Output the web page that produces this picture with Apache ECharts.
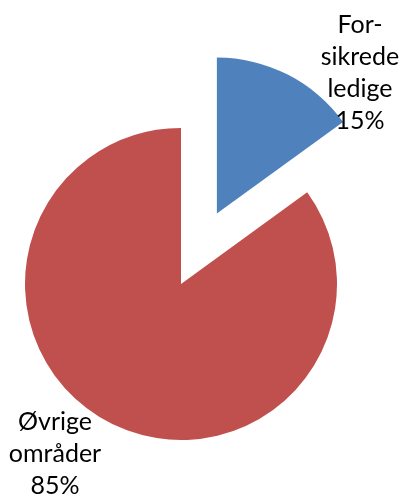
<!DOCTYPE html>
<html>
<head>
<meta charset="utf-8">
<script src="https://cdn.jsdelivr.net/npm/echarts@6/dist/echarts.min.js"></script>
<style>html,body{margin:0;padding:0;background:#fff;}#c{width:401px;height:497px;}</style>
</head>
<body>
<div id="c"></div>
<script>
var categories = ["For-\nsikrede\nledige", "Øvrige\nområder"];
var values = [15, 85];
var colors = ["#4F81BD", "#C0504D"];
var labelSpots = [[360, 73], [55, 454]];

var cx = 181, cy = 284, R = 156, explode = 79;
var total = values.reduce(function (a, b) { return a + b; }, 0);
var midAng = (values[0] / total) * Math.PI; // half of the first slice, clockwise from 12 o'clock
var ex = cx + explode * Math.sin(midAng), ey = cy - explode * Math.cos(midAng);

function makeSeries(showIndex, center) {
  return {
    type: 'pie',
    center: center,
    radius: R,
    startAngle: 90,
    clockwise: true,
    percentPrecision: 0,
    avoidLabelOverlap: false,
    emphasis: {disabled: true},
    silent: true,
    label: {
      show: true,
      position: 'outside',
      formatter: '{b}\n{d}%',
      fontFamily: 'Lato',
      fontSize: 25,
      lineHeight: 32,
      color: '#000',
      align: 'center'
    },
    labelLine: {show: false},
    labelLayout: function (p) {
      var s = labelSpots[p.dataIndex];
      return {x: s[0], y: s[1], align: 'center', verticalAlign: 'middle'};
    },
    data: categories.map(function (c, i) {
      var on = i === showIndex;
      return {
        name: c, value: values[i],
        itemStyle: {color: on ? colors[i] : 'rgba(0,0,0,0)', borderWidth: 0},
        label: {show: on}
      };
    })
  };
}

var chart = echarts.init(document.getElementById('c'), null, {renderer: 'canvas'});
chart.setOption({
  animation: false,
  series: [makeSeries(1, [cx, cy]), makeSeries(0, [ex, ey])]
});
</script>
</body>
</html>
